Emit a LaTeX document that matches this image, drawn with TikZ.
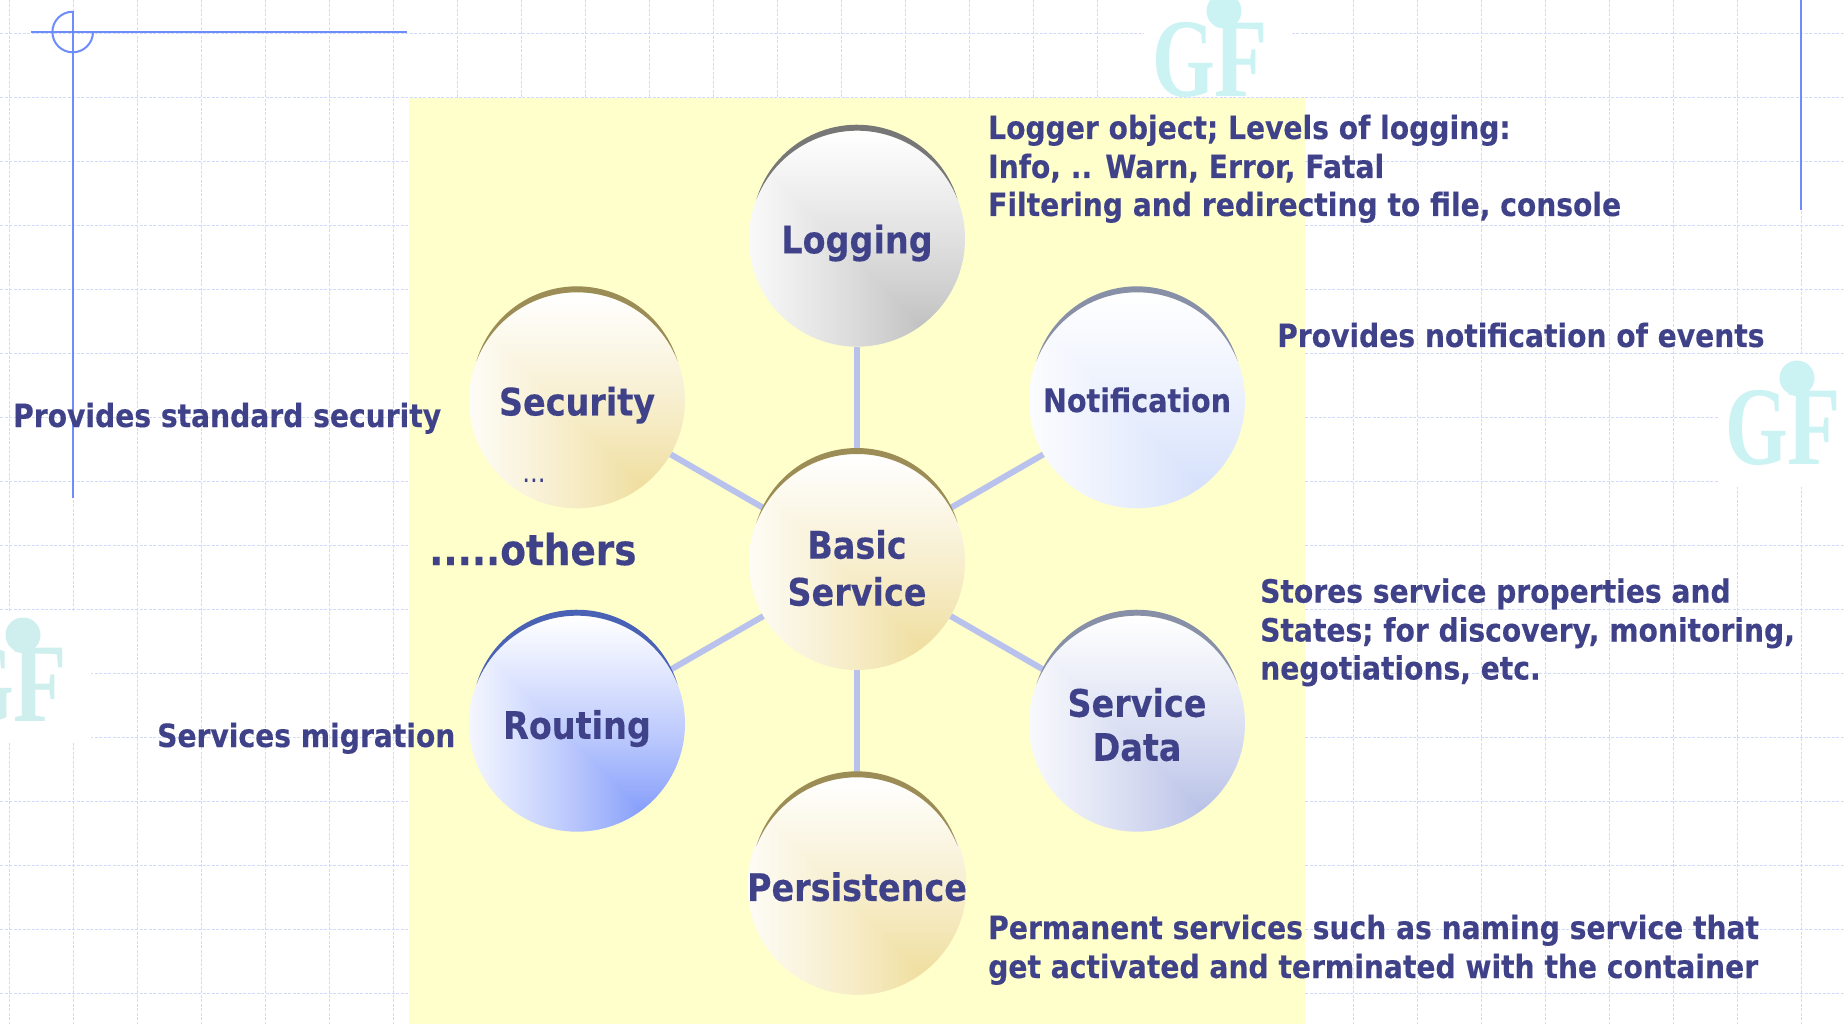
\documentclass[tikz,border=0pt]{standalone}
\usepackage{fontspec}
\usetikzlibrary{calc}
\newfontfamily\tf{DejaVu Sans}[FakeStretch=0.88,BoldFeatures={FakeBold=0.25}]
\newfontfamily\logofont{Liberation Serif}
\definecolor{ink}{HTML}{3F4289}
\definecolor{gridc}{HTML}{D3DBFA}
\definecolor{pale}{HTML}{FFFFCC}
\definecolor{rulec}{HTML}{6E8CFA}
\definecolor{connc}{HTML}{B8C2EC}
\definecolor{logoc}{HTML}{CCF3F3}
\definecolor{logod}{HTML}{CFEEEE}
\definecolor{capgray}{HTML}{777777}
\definecolor{capgold}{HTML}{9C8C55}
\definecolor{capslate}{HTML}{8890A8}
\definecolor{capblue}{HTML}{4A62B5}
% rectangular path gradient: colour at a focus low on the right, white at the edges
\newcommand\declball[4]{%
  \pgfdeclarefunctionalshading{#1}{\pgfpointorigin}{\pgfpoint{100bp}{100bp}}{}{%
    19 sub dup 0 gt {68 div}{neg 60 div} ifelse
    exch 76 sub dup 0 lt {neg 68 div}{60 div} ifelse
    2 copy lt {exch} if pop
    0.1 sub dup 0 lt {pop 0} if
    0.72 div dup 1 gt {pop 1} if
    0.8 exp
    dup 1 #2 sub mul #2 add exch
    dup 1 #3 sub mul #3 add exch
    1 #4 sub mul #4 add
  }}
\declball{ballgray}{0.72}{0.72}{0.72}
\declball{ballgold}{0.93}{0.85}{0.56}
\declball{ballpale}{0.81}{0.86}{0.98}
\declball{ballslate}{0.68}{0.72}{0.89}
\declball{ballblue}{0.45}{0.56}{0.98}
\newcommand\balltext[2]{\raisebox{#1}[0pt][0pt]{\begin{tabular}{@{}c@{}}#2\end{tabular}}}
\tikzset{
  ball/.style={circle,minimum size=216pt,inner sep=0pt,draw=none,shading=#1,text=ink,
    font=\tf\bfseries\fontsize{38}{47}\selectfont},
  desc/.style={anchor=base west,inner sep=0pt,text=ink,font=\tf\bfseries\fontsize{32}{38}\selectfont},
  conn/.style={draw=connc,line width=6pt},
  gridline/.style={draw=gridc,line width=1pt,dash pattern=on 3pt off 1.5pt},
  rule/.style={draw=rulec,line width=2pt},
  cap/.style={fill=#1},
  logoglyph/.style={inner sep=0pt,anchor=base west,text=#1,font=\logofont\bfseries\fontsize{112}{112}\selectfont},
}
\newcommand\capon[2]{\fill[cap=#2] ($(#1)+(21.3:108pt)$)
  arc[start angle=21.3,end angle=158.7,radius=108pt]
  arc[start angle=163.2,end angle=16.8,radius=105.1pt] -- cycle;}
\begin{document}
\begin{tikzpicture}[x=1pt,y=-1pt]
\fill[white,use as bounding box] (0,0) rectangle (1845,1024);
\clip (0,0) rectangle (1845,1024);
% grid
\foreach \k in {0,...,28} \draw[gridline] ({9+64*\k},0) -- ({9+64*\k},1024);
\foreach \k in {0,...,15} \draw[gridline] (0,{33.5+64*\k}) -- (1845,{33.5+64*\k});
% logo patches
\fill[white] (1144,0) rectangle (1292,97);
\fill[white] (1719,355) rectangle (1845,487);
\fill[white] (0,612) rectangle (91,742);
% logos
\foreach \dx/\dy/\c/\n in {0/0/logoc/a,573/367/logoc/b,-1201/624/logod/c}{
  \begin{scope}[shift={(\dx,\dy)}]
    \node[logoglyph=\c] (logoG\n) at (1152,97) {\scalebox{0.72}[1]{G}};
    \node[logoglyph=\c] (logoF\n) at (1214,97) {\scalebox{0.78}[1]{F}};
    \fill[\c] (1224,11) circle[radius=17.5pt];
  \end{scope}
}
% panel
\fill[pale] (409,97.7) rectangle (1305,1024);
% corner rules
\draw[rule] (31,32) -- (407,32);
\draw[rule] (72.7,10.7) -- (72.7,498);
\draw[rule] (72.7,11.7) arc[start angle=90,end angle=360,radius=20.3pt];
\draw[rule,line width=1.6pt] (1801,0) -- (1801,210);
% balls
\node[ball=ballgray]  (logging) at (857,238.7) {\balltext{-11.5pt}{Logging}};
\node[ball=ballgold]  (security) at (577,400.3) {\balltext{-12pt}{Security}};
\node[ball=ballpale]  (notification) at (1137,400.3) {\fontsize{32.5}{40}\selectfont\balltext{-10pt}{Notification}};
\node[ball=ballgold]  (basic) at (857,562) {\balltext{-17pt}{Basic\\Service}};
\node[ball=ballblue]  (routing) at (577,723.7) {\balltext{-12pt}{Routing}};
\node[ball=ballslate] (servicedata) at (1137,723.7) {\fontsize{38}{44}\selectfont\balltext{-12.5pt}{Service\\Data}};
\node[ball=ballgold]  (persistence) at (857,885.3) {\balltext{-12.5pt}{Persistence}};
% connectors
\foreach \b in {logging,security,notification,routing,servicedata,persistence}
  \draw[conn] (basic) -- (\b);
% caps
\capon{logging}{capgray}
\capon{security}{capgold}
\capon{notification}{capslate}
\capon{basic}{capgold}
\capon{routing}{capblue}
\capon{servicedata}{capslate}
\capon{persistence}{capgold}
% labels
\node[desc] (t1) at (988,139) {Logger object; Levels of logging:};
\node[desc] (t2) at (988,178) {Info, .. Warn, Error, Fatal};
\node[desc] (t3) at (988,216) {Filtering and redirecting to file, console};
\node[desc] (t4) at (1277,347) {Provides notification of events};
\node[desc] (t5) at (13,427) {Provides standard security};
\node[desc] (t6) at (157,747) {Services migration};
\node[desc] (t7) at (1260,602.6) {Stores service properties and};
\node[desc] (t8) at (1260,641.5) {States; for discovery, monitoring,};
\node[desc] (t9) at (1260,679.5) {negotiations, etc.};
\node[desc] (t10) at (988,939) {Permanent services such as naming service that};
\node[desc] (t11) at (988,978) {get activated and terminated with the container};
\node[desc,font=\tf\bfseries\fontsize{42.5}{50}\selectfont] (others) at (429,565) {.....others};
\node[anchor=base,inner sep=0pt,text=ink,font=\tf\fontsize{28}{30}\selectfont] (dots) at (534,482) {...};
\end{tikzpicture}
\end{document}
